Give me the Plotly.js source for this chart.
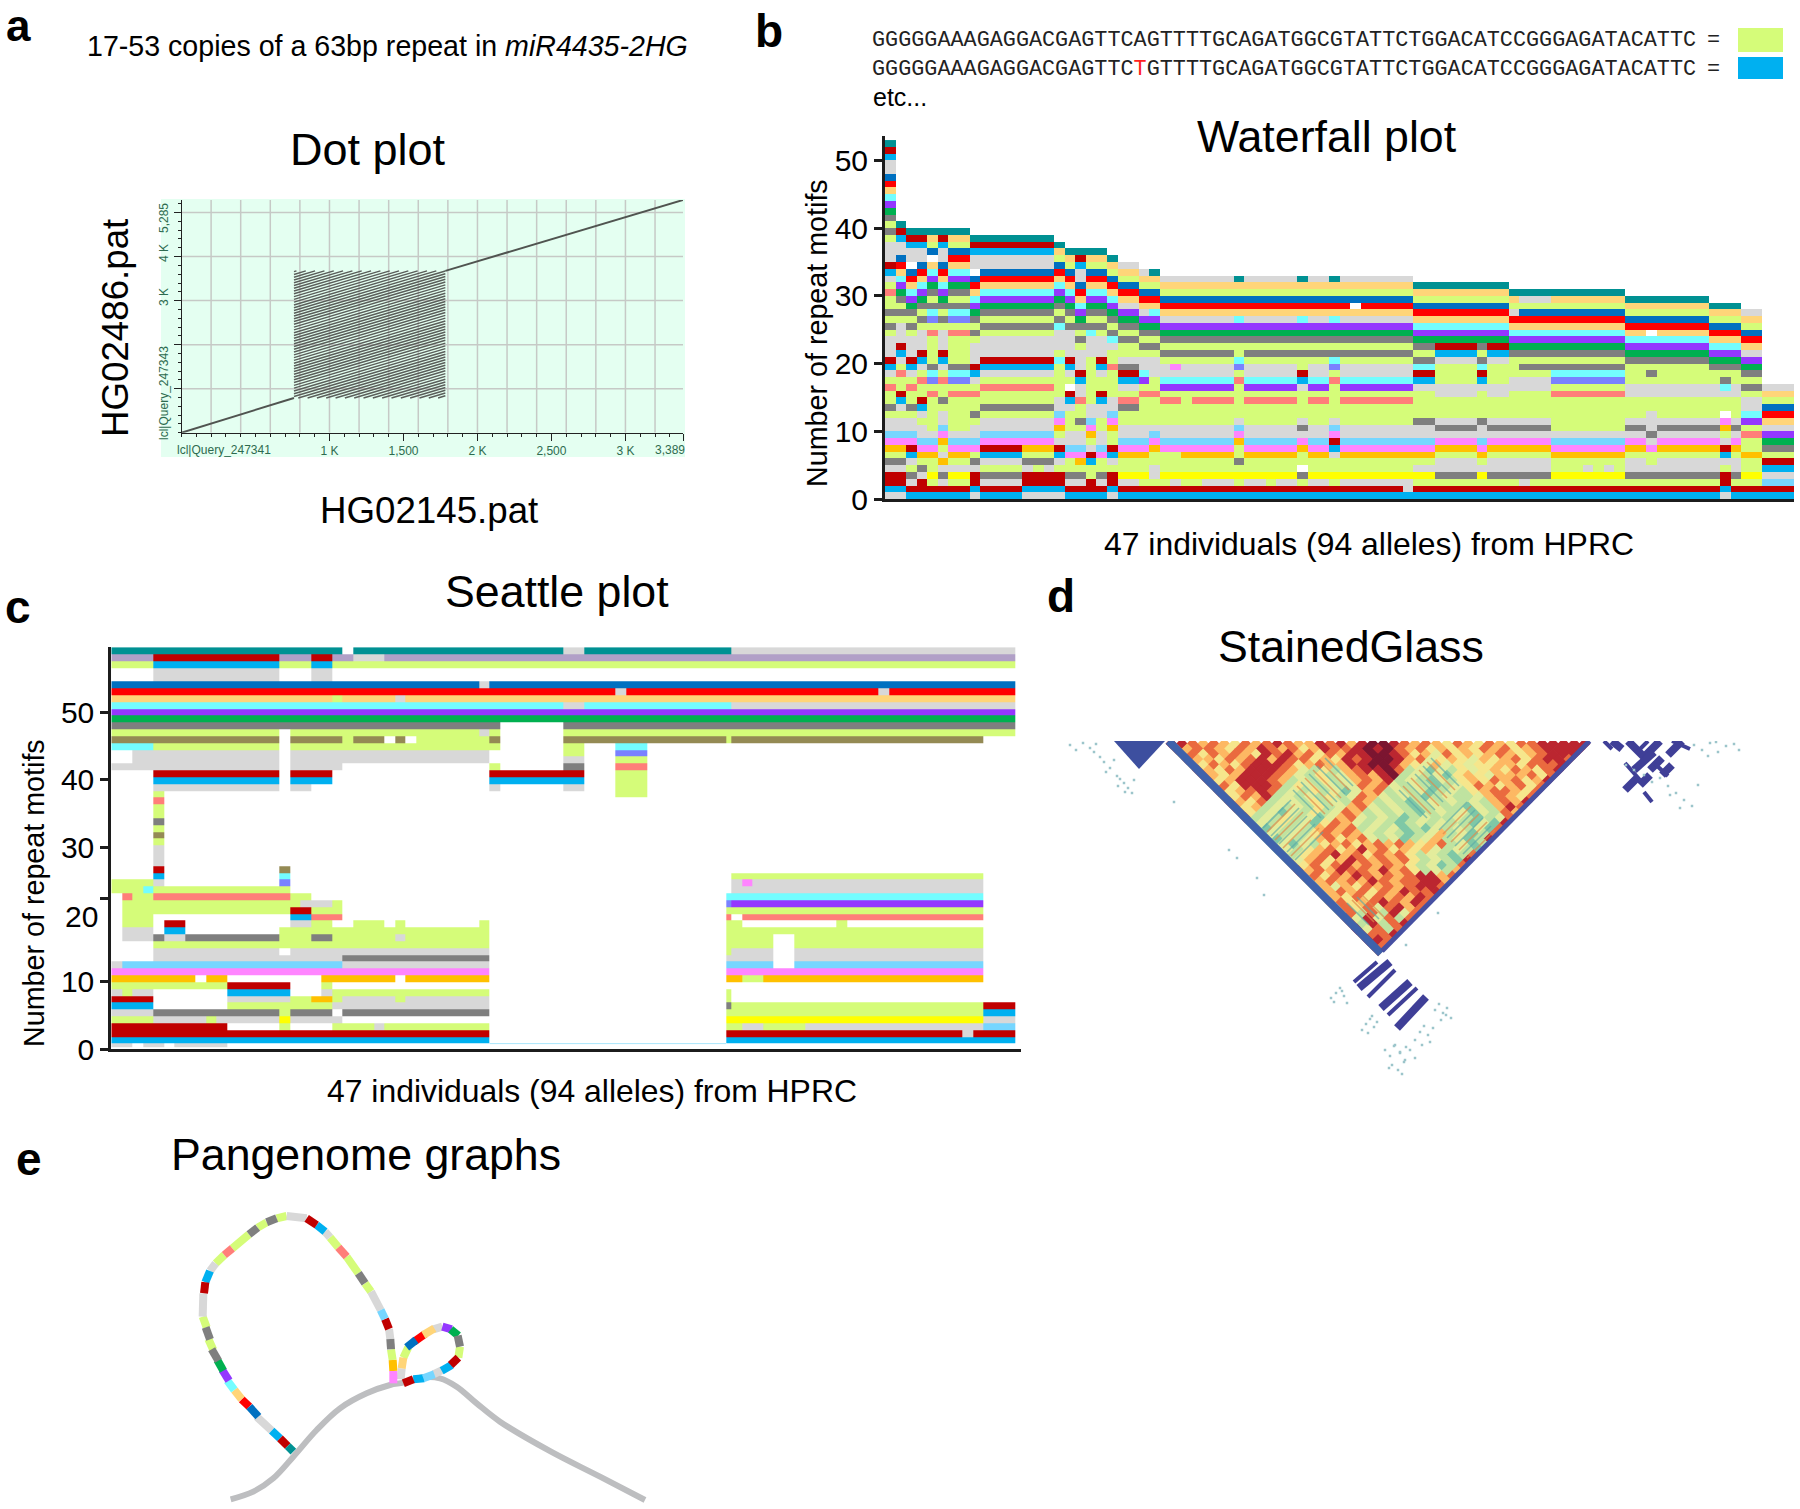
<!DOCTYPE html>
<html><head><meta charset="utf-8">
<script src="https://cdn.plot.ly/plotly-3.0.1.min.js"></script>
<style>html,body{margin:0;padding:0;background:#fff}#chart{width:1800px;height:1509px}</style>
</head><body><div id="chart"></div>
<script>
const FIG_W = 1800, FIG_H = 1509;
// ---- shared motif palette
const motifCodes  = ['L','G','B','R','r','T','O','o','Y','N','C','P','E','K','S','M','A','V','F','U'];
const motifColors = ['#D5FC79','#D8D8D8','#00B0F0','#C00000','#FF0000','#009193','#FFC000','#FFD579','#FFFF00','#0070C0','#73FDFF','#9437FF','#00B050','#7F7F7F','#FF7E79','#FF85FF','#76D6FF','#7A81FF','#948A54','#B1A0C7'];

// ---- panel a: dot plot
const dotTickVals = [1000,1500,2000,2500,3000,3389];
const dotTickText = ['1 K','1,500','2 K','2,500','3 K',''];
const dotGridX = [200,400,600,800,1000,1200,1400,1600,1800,2000,2200,2400,2600,2800,3000,3200];
const dotGridY = [1000,2000,3000,4000,5000];
const dotDiagX = [0,760,null,1783,3389];
const dotDiagY = [0,789,null,3675,5285];
const dotBlockX = [760,1783];
const dotBlockY = [789,3675];
const dotOffsets = [-945,-882,-819,-756,-693,-630,-567,-504,-441,-378,-315,-252,-189,-126,-63,0,63,126,189,252,315,378,441,504,567,630,693,756,819,882,945,1008,1071,1134,1197,1260,1323,1386,1449,1512,1575,1638,1701,1764,1827,1890,1953,2016,2079,2142,2205,2268,2331,2394,2457,2520,2583,2646,2709,2772,2835,2898];

// ---- panel b: waterfall plot, one stack per run of equal columns, read bottom to top
const waterfallWidths = [1,1,1,1,1,1,2,1,4,3,1,1,1,1,1,1,2,1,1,7,1,5,1,2,1,7,2,4,1,2,1,3,7,2,1,5,1,1,1,2,3];
const waterfallStacks = [
 'GBRRGKLOMA GGLKLLSLGB RGGGLKLKLL SLGBRGGGLK LKEPCorNGG BRT',
 'GBRRGKLOMA GGLGBRLLSL GBRGGGLKLK EPCorNGGBR T',
 'BRGKLGBRMA GGLKLLSLGB RGGGLKLKEP CorNWGGBRT',
 'BRRGKLOMAG GLGBRLLSLG BRGGGLKLKE PCorNGGBRT',
 'BRLYLLOMAG LLLLLSLVCK LLLLSLVCKL KEPCoWNLoT',
 'BRGKGOGLOM AGGLKLLSLG BRGGGLKLKE PCorNGGBRT',
 'BRLYGLOMAG LLLLLSLVCK LLLLSLVCKL KEPCorNLoT',
 'GBRRGKLMAG GLKLLSLGBR GGGLKLKEPC orNWGGBRT',
 'BRGKLGBRMA GGLKLLSLGB RGGGLKLKEP CorNGGBRT',
 'GBRRGKLOMA GGLKLLSLGB RGGGLKLKEP CorNGGBRT',
 'GBRRLGBRGL OMAGGLLLLL CLGGGCKLKE PCorNLoT',
 'BRGKLLMAGG LLLGBRWLGB RGGGGKLKEP CorNLoT',
 'BRGKLOMAGG LKLLSGGBRG GGLKLKEPCo rNGGBRT',
 'BRRLLBRGLO MAGGLLLLLL LGGGCKLKEP CorNLoT',
 'BRGKLLMAGG LLGGBRLLGB RGGGLKLKEP CorNLoT',
 'GBRRLGBRLL OMAGGLLLLS LLGCKLKEPC orNLoT',
 'BRGYLLOMAG GLLKSLGBRK GLLKLKEPGo rNLoG',
 'BRLYLLOMAG GLLLLSLPCG GLKLKEPGor NLoG',
 'BRLGGLLOMA GLLLLSLLGG GLKLKEPCor NLoT',
 'BRGYLLOMAG GLLLSLPCGG LKLKEPGorN LoG',
 'BRLYLKLLOM AGLLLLLSLV CLLKEPCorN LoT',
 'BRGYLLOMAG GLLLSLPCGG LKLKEPGorN LoG',
 'BRLKWLLOMG KGLLLLGBRL LKLKEPCorN LoT',
 'BRGYLLOMAG GLLLSLPCGG LKLKEPGorN LoG',
 'BRLYLLGBRM AGLLLLLSLV CKLKEPCorN LoT',
 'BRGYLLOMAG GLLLSLPCGG LKLKEPGorN LoG',
 'BRLYGLOMAG GKLLLLGBRC KLKEPCorNL oT',
 'BRLKGGLOMG KGLLLGGLLL GBREPCorNL oT',
 'BRLYGLOMAG GKLLLLGBRC KLKEPCorNL oT',
 'BRLKGGLOMG KGLLLGGLLL GBREPCorNL oT',
 'BRLKGGLOMG KGLLLLGGLL LKEPCorGLo T',
 'BRLKGGLOMG KGLLLLGGLK LKEPCorNLG T',
 'BRLYLLOMAG LLLLLSLVCK LKEPCorNLo T',
 'BRLKGGLOMG KGLLLGGLLL KEPCorNLoT',
 'BRLKGLLMGK GGGLLGGLKL KEPCWrNLoT',
 'BRLKGGLOMG KGLLLGGLLL KEPCorNLoT',
 'BRLKGGLOMG KGLLLGGLLK EPCorNLoT',
 'GBRRLGBRGL OMWLLGCKLK EPCorNLoT',
 'BRLKGGLOMG KGLLLGGLLK EPCorNLoT',
 'BRLYLLOLLS LPCGGLKLKE PGorNLoG',
 'BRAGBRLKEP GorNLoG'
];
const waterfallEditCols = [26,27,27,28,44,49,26,28,29,36,60,66,68,14];
const waterfallEditRows = [6,6,19,14,28,1,2,2,2,2,2,4,4,4];
const waterfallEditCode = ['L','L','M','L','W','G','L','L','L','L','G','G','G','L'];
const axisTicks = [0,10,20,30,40,50];

// ---- panel c: Seattle plot, one run list per row, read top to bottom
const seattleRows = [
 'T22 W1 T20 G2 T14 G27',
 'U4 R12 U3 R2 U2 G3 U60',
 'L4 B12 L3 B2 L65',
 'W4 G12 W3 G2',
 'W4 G12 W3 G2',
 'N35 G1 N50',
 'r48 G1 r24 G1 r12',
 'o21 L1 o5 G1 o58',
 'C43 G2 C14 G27',
 'P86',
 'E86',
 'K37 W6 K43',
 'L16 W1 L18 G1 L1 W6 L43',
 'F16 W1 F5 L1 F3 W1 F1 W1 L7 F1 W6 F15 L1 F24',
 'C4 L12 W1 L20 W6 L2 W3 C3',
 'W2 G14 W1 G19 W7 L2 W3 V3',
 'W2 G14 W1 G19 W7 G2 W3 L3',
 'G16 W1 G5 W14 L1 W6 K2 W3 S3',
 'W4 R12 W1 R4 W15 R9 W3 L3',
 'W4 B12 W1 B4 W15 B9 W3 L3',
 'W4 G12 W1 G2 W17 G1 W6 G2 W3 L3',
 'W4 L1 W43 L3',
 'W4 S1',
 'W4 L1',
 'W4 L1',
 'W4 K1',
 'W4 L1',
 'W4 F1',
 'W4 L1',
 'W4 G1',
 'W4 G1',
 'W4 G1',
 'W4 R1 W11 F1',
 'W4 B1 W11 C1 W42 L24',
 'L4 G1 W11 V1 W42 G1 M1 G22',
 'L3 C1 L13 W42 G24',
 'W1 S1 L2 S13 L2 W39 C25',
 'W1 L17 G3 L1 W36 V1 P24',
 'W1 L16 R2 L3 W36 L25',
 'W1 L3 W13 B2 S3 W36 S1 W1 S23',
 'W1 L3 W1 R2 W10 G2 L2 W2 L3 W1 L1 W7 L1 W22 L2 W9 L1 W13',
 'W1 G3 W1 B2 W9 L20 W22 L25',
 'W1 G3 K1 G2 K9 L3 K2 L6 G1 L8 W22 L5 W2 L18',
 'W4 L32 W22 L5 W2 L18',
 'W4 G12 W1 G19 W22 L1 G4 W2 G18',
 'W4 G18 K14 W22 G5 W2 G18',
 'G1 A21 G14 W22 A5 W2 A18',
 'M36 W22 M25',
 'O8 W1 O2 W9 O7 W1 O8 W22 O2 L2 O21',
 'L11 R6 W3 L1',
 'G1 L1 G2 W7 B6 W3 G1 L15 W22 L1',
 'R4 W7 G6 L2 O2 L1 G5 L1 G8 W22 L1',
 'B4 W7 L10 G15 W22 K1 L24 R3',
 'G4 K12 L1 K4 W1 K14 W22 L25 B3',
 'L4 G5 L1 G6 Y1 G5 W36 Y25 G3',
 'R11 W5 L1 W4 L4 G1 L10 W22 L2 G2 L4 G17 A3',
 'R36 W22 R23 G1 R4',
 'B36 W22 B28',
 'G2 W1 G2 W1 G5'
];
const seattleTickVals = [0,10,22.3,30,40,50];
const seattleTickText = ['0','10','','30','40','50'];
const seattleThinX = [36,58.5];
const seattleThinY = [0.8,0.8];

// ---- panel d: StainedGlass, percent identity class per tile, one string per depth
const glassPalette = ['#3d4fa0','#3f8fc0','#7fc8a6','#bfe3a0','#e3ec9c','#f6e68c','#fdb863','#ea6a3f','#bb2630','#7b1530'];
const glassRows = [
 '8876765767876687868998767657657657788888','767765768767568778989767565657675678888',
 '67576765878675768899875647565676567888','7665767868775658789986745654656757887',
 '657657888756766889986546454556657778','76576888764353678897342435456576578',
 '7656888764353467689343425654666757','756888763435346768343243565767568',
 '67588873543434767434323457656757','7567873435342467343423435677657',
 '657683434353476434323433467657','76573443534376343234343436768',
 '7563434353467434323433243687','653424353476343432343424376',
 '73435342467434323433432347','3435342576434323434332428',
 '324343676734342324343427','34343576764343234634237',
 '3243467567434234634238','342435675676765673423',
 '34356756867565643432','4356786757675343237',
 '546756876767534328','65757867676534237',
 '7676877686753436','675768767678867',
 '56767687677886','3646576767887',
 '567675768778','46575767687',
 '6756787687','475747867',
 '67373847','7484737','738378','84737','7778','887','87','7'
];
const glassLeftX = [1168.5,1381];   const glassLeftY = [741,953.5];
const glassRightX = [1589.5,1382];  const glassRightY = [741,951];
const glassTriX = [1114,1165,1139]; const glassTriY = [741,741,769];
const glassStripeTealX = [1293,1321,null,1301,1329,null,1309,1337,null,1317,1345,null,1325,1353,null,1399,1427,null,1407,1435,null,1415,1443,null,1423,1451,null,1431,1459,null,1455,1483,null,1447,1475,null,1439,1467,null,1463,1491,null,1471,1499,null,1279,1307,null,1271,1299,null,1263,1291,null,1287,1315,null,1295,1323,null,1357,1379,null,1347,1369];
const glassStripeTealY = [790,818,null,782,810,null,774,802,null,766,794,null,758,786,null,790,818,null,782,810,null,774,802,null,766,794,null,758,786,null,846,818,null,838,810,null,830,802,null,854,826,null,862,834,null,844,816,null,836,808,null,828,800,null,852,824,null,860,832,null,897,919,null,903,925];
const glassStripeRedX = [1297,1325,null,1305,1333,null,1313,1341,null,1321,1349,null,1403,1431,null,1411,1439,null,1419,1447,null,1427,1455,null,1443,1471,null,1451,1479,null,1459,1487,null,1467,1495,null,1267,1295,null,1275,1303,null,1283,1311,null,1291,1319,null,1362,1384,null,1352,1374];
const glassStripeRedY = [786,814,null,778,806,null,770,798,null,762,790,null,786,814,null,778,806,null,770,798,null,762,790,null,834,806,null,842,814,null,850,822,null,858,830,null,832,804,null,840,812,null,848,820,null,856,828,null,895,917,null,900,922];
const glassThickX = [1359,1390,null,1381,1410,null,1397,1426,null,1628,1644,null,1660,1645,null,1682,1668,null,1634,1654,null,1640,1650,null,1650,1662,null,1612,1622,null,1625,1637,null,1662,1672];
const glassThickY = [988,962,null,1008,982,null,1028,997,null,741,757,null,741,756,null,741,755,null,770,752,null,785,775,null,770,758,null,741,749,null,790,778,null,775,765];
const glassThinX = [1354,1377,null,1368,1395,null,1388,1417,null,1604,1612,null,1648,1636,null,1672,1690,null,1655,1668,null,1625,1640,null,1644,1652];
const glassThinY = [982,962,null,997,970,null,1015,988,null,741,749,null,741,753,null,741,749,null,764,776,null,763,780,null,792,802];
const glassPaleX = [1070,1076,1083,1090,1094,1096,1100,1104,1110,1114,1106,1117,1120,1124,1128,1132,1118,1125,1134,1174,1229,1237,1257,1264,1438,1406,1694,1702,1710,1718,1726,1734,1739,1708,1716,1626,1634,1644,1652,1660,1668,1676,1684,1692,1698,1670,1680,1331,1336,1340,1344,1347,1334,1342,1362,1366,1370,1374,1377,1368,1372,1435,1439,1443,1447,1451,1441,1446,1415,1420,1424,1428,1433,1422,1430,1385,1390,1395,1400,1405,1410,1415,1392,1398,1404,1394,1402,1400,1406,1389];
const glassPaleY = [745,750,743,748,752,744,757,762,768,760,772,776,779,783,788,793,786,792,780,802,850,858,878,895,913,945,745,750,743,752,746,744,750,756,742,765,770,775,782,778,786,793,800,806,785,795,808,998,993,988,996,1003,1002,991,1030,1024,1019,1027,1022,1033,1016,1010,1004,1013,1008,1018,1020,1015,1040,1032,1026,1035,1028,1045,1042,1050,1056,1045,1053,1060,1050,1058,1065,1070,1062,1046,1074,1052,1047,1068];

// ---- panel e: pangenome graph, node colours and outlines
const graphBackX = [122,190,250,310,380,450,530,600,640,700,750,800,860,930,1083,1230,1365];
const graphBackY = [928,905,865,800,720,655,610,585,578,562,565,590,640,695,785,860,930];
const graphNodes = ['T','R','B','G','N','r','o','C','P','E','K','L','K','L','G','R','B','G','L','S','L','K','L','K','L','G','R','B','G','L','S','L','K','L','G','A','R','G','K','L','O','M','G','o','L','N','r','o','G','P','E','K','L','R','B','G','A','B','R'];
const graphStartX = [310,293,270,245,205,178,155,133,117,100,85,70,60,50,38,42,46,60,77,103,127,177,203,230,260,290,350,380,405,420,445,470,505,525,543,572,585,597,601,603,608,610,632,635,640,650,672,700,730,757,782,803,810,805,785,757,733,703,670];
const graphStartY = [785,768,745,722,680,650,628,600,572,542,512,480,448,412,380,310,277,243,220,195,175,133,113,97,85,78,85,105,125,142,172,200,250,280,305,360,387,417,447,478,510,543,568,535,503,472,455,435,418,410,418,437,470,503,525,540,553,565,568];
const graphEndX   = [293,270,245,200,178,155,133,112,97,82,65,55,47,38,40,46,60,77,103,127,177,203,230,260,290,350,380,405,420,445,470,505,525,543,572,585,597,601,603,608,610,610,635,640,655,678,705,733,757,785,805,810,805,782,755,730,700,670,640];
const graphEndY   = [768,745,722,680,650,628,600,572,540,510,478,447,412,380,310,277,243,220,195,175,133,113,97,85,78,85,105,125,142,172,200,250,280,305,360,387,417,447,478,510,543,580,535,503,472,450,432,415,410,418,437,470,503,525,542,553,565,568,580];

// ---- page text, [text, x, y, size, angle] in figure pixels
const labels = [
 ['<b>a</b>',18,26,44,0],['<b>b</b>',769,31,46,0],['<b>c</b>',18,607,46,0],['<b>d</b>',1061,596,46,0],['<b>e</b>',29,1159,46,0],
 ['17-53 copies of a 63bp repeat in <i>miR4435-2HG</i>',387,46,28.6,0],
 ['Dot plot',368,149,45,0],['HG02486.pat',115,328,36.7,-90],['HG02145.pat',429,510,36.7,0],
 ['Waterfall plot',1327,136,44.7,0],['Number of repeat motifs',817,333,28.7,-90],['47 individuals (94 alleles) from HPRC',1369,544,31.9,0],
 ['Seattle plot',557,591,44.7,0],['Number of repeat motifs',34,893,28.7,-90],['47 individuals (94 alleles) from HPRC',592,1091,31.9,0],['20',81,916,30,0],
 ['StainedGlass',1351,646,44.7,0],['Pangenome graphs',366,1154,44.7,0],
 ['etc...',900,97,25,0]
];
const seqA = 'GGGGGAAAGAGGACGAGTTCAGTTTTGCAGATGGCGTATTCTGGACATCCGGGAGATACATTC';
const seqB = 'GGGGGAAAGAGGACGAGTTC<span style="color:#ff2020">T</span>GTTTTGCAGATGGCGTATTCTGGACATCCGGGAGATACATTC';

// ---- helpers
const strip = s => s.replace(/ /g,'');
const codeIndex = c => { const i = motifCodes.indexOf(c); return i < 0 ? null : i; };
const n = motifColors.length;
const motifScale = [];
motifColors.forEach((c,i)=>{ motifScale.push([i/n,c]); motifScale.push([(i+1)/n,c]); });
const hmap = (z,x,y,xa,ya)=>({type:'heatmap',z,x,y,xaxis:xa,yaxis:ya,zmin:-0.5,zmax:n-0.5,colorscale:motifScale,showscale:false,hoverinfo:'skip',zsmooth:false,xgap:0,ygap:0});
const domX = (a,b)=>[a/FIG_W,b/FIG_W];
const domY = (top,bot)=>[1-bot/FIG_H,1-top/FIG_H];

// waterfall matrix
const wfCols = 86, wfRows = 53;
const wfZ = Array.from({length:wfRows},()=>Array(wfCols).fill(null));
let col = 0;
waterfallStacks.forEach((stack,g)=>{
  const s = strip(stack);
  for(let k=0;k<waterfallWidths[g];k++,col++){
    for(let r=0;r<s.length && r<wfRows;r++) wfZ[r][col]=codeIndex(s[r]);
  }
});
waterfallEditCols.forEach((c,i)=>{ wfZ[waterfallEditRows[i]][c]=codeIndex(waterfallEditCode[i]); });
const wfX = Array.from({length:wfCols},(_,i)=>i+0.5);
const wfY = Array.from({length:wfRows},(_,i)=>i+0.5);

// seattle matrix (last row is the half-height sliver under the baseline)
const stRows = seattleRows.length;
const stCols = 86;
const stZ = [];
for(let r=stRows-1;r>=0;r--){
  const row = Array(stCols).fill(null);
  let c=0;
  for(const m of seattleRows[r].matchAll(/([A-Za-z])(\d+)/g)){
    const v=codeIndex(m[1]);
    for(let k=0;k<+m[2]&&c<stCols;k++,c++) row[c]=v;
  }
  stZ.push(row);
}
const stXEdges = Array.from({length:stCols+1},(_,i)=>i);
stXEdges[58] = 58.5;   // the right-hand block begins half a column in
const stYEdges = [0.28,0.8];
for(let r=1;r<stRows;r++) stYEdges.push(0.8+r*(58.9/(stRows-1)));

// dot-plot repeat diagonals clipped to the repeat block
const dotX=[],dotY=[];
dotOffsets.forEach(c=>{
  const x0=Math.max(dotBlockX[0],dotBlockY[0]-c), x1=Math.min(dotBlockX[1],dotBlockY[1]-c);
  if(x1>x0){ dotX.push(x0,x1,null); dotY.push(x0+c,x1+c,null); }
});
const gridX=[],gridY=[];
dotGridX.forEach(v=>{gridX.push(v,v,null);gridY.push(0,5285,null);});
dotGridY.forEach(v=>{gridX.push(0,3389,null);gridY.push(v,v,null);});

// stained-glass tiles
const glassW = 10.6, glassLeft = 1166, glassTop = 741;
const tx=[],ty=[],tc=[];
glassRows.forEach((s,r)=>{
  for(let c=0;c<s.length;c++){
    tx.push(glassLeft+(r+2*c+1)*glassW/2);
    ty.push(glassTop+(r+0.5)*glassW/2);
    tc.push(glassPalette[+s[c]]);
  }
});

// traces
const line=(x,y,color,width,xa,ya,extra)=>Object.assign({type:'scatter',mode:'lines',x,y,xaxis:xa,yaxis:ya,hoverinfo:'skip',line:{color,width}},extra||{});
const traces = [
  line(gridX,gridY,'#c6c9c6',1.5,'x','y'),
  line(dotX,dotY,'#5a5e5a',1.5,'x','y'),
  line(dotDiagX,dotDiagY,'#505450',2,'x','y'),
  hmap(wfZ,wfX,wfY,'x2','y2'),
  hmap(stZ,stXEdges,stYEdges,'x3','y3'),
  line(seattleThinX,seattleThinY,'#a9e6fb',1,'x3','y3'),
  {type:'scatter',mode:'markers',x:tx,y:ty,xaxis:'x4',yaxis:'y4',hoverinfo:'skip',marker:{symbol:'diamond',size:8.9,color:tc,line:{width:0}}},
  line(glassStripeTealX,glassStripeTealY,'#5aa9a8',1.6,'x4','y4',{opacity:0.65}),
  line(glassStripeRedX,glassStripeRedY,'#e08a4a',1.6,'x4','y4',{opacity:0.7}),
  line(glassLeftX,glassLeftY,'#3f62ab',8,'x4','y4'),
  line(glassRightX,glassRightY,'#4650a2',5,'x4','y4'),
  {type:'scatter',mode:'lines',x:glassTriX,y:glassTriY,xaxis:'x4',yaxis:'y4',fill:'toself',fillcolor:'#3d4f9f',line:{width:0,color:'#3d4f9f'},hoverinfo:'skip'},
  line(glassThickX,glassThickY,'#3f3f97',8,'x4','y4'),
  line(glassThinX,glassThinY,'#3f3f97',4,'x4','y4'),
  {type:'scatter',mode:'markers',x:glassPaleX,y:glassPaleY,xaxis:'x4',yaxis:'y4',hoverinfo:'skip',marker:{symbol:'square',size:2.5,color:'#9cc5cb'}},
  line(graphBackX,graphBackY,'#BDBEC0',6,'x5','y5',{line:{color:'#BDBEC0',width:6,shape:'spline',smoothing:1}})
];
// graph nodes: one trace per colour, segments separated by gaps
motifCodes.forEach((code,ci)=>{
  const xs=[],ys=[];
  graphNodes.forEach((g,i)=>{ if(g===code){ xs.push(graphStartX[i],graphEndX[i],null); ys.push(graphStartY[i],graphEndY[i],null);} });
  if(xs.length) traces.push(line(xs,ys,motifColors[ci],8,'x5','y5'));
});

const hidden = {visible:false,fixedrange:true};
const tickFont = {family:'Liberation Sans, Arial, sans-serif',size:30,color:'#000'};
const textColor = '#2e6b4f';
const layout = {
  width:FIG_W,height:FIG_H,margin:{l:0,r:0,t:0,b:0,pad:0},paper_bgcolor:'#fff',plot_bgcolor:'rgba(0,0,0,0)',
  showlegend:false,font:{family:'Liberation Sans, Arial, sans-serif',color:'#000'},
  xaxis:{domain:domX(181.5,683),range:[0,3389],showgrid:false,zeroline:false,showline:true,linecolor:'#222',linewidth:1,
    tickmode:'array',tickvals:dotTickVals,ticktext:dotTickText,ticks:'outside',ticklen:7,tickcolor:'#222',tickwidth:1,
    tickfont:{size:12,color:textColor},anchor:'y',
    minor:{tickmode:'linear',tick0:0,dtick:100,ticks:'outside',ticklen:3,tickcolor:'#222',tickwidth:1,showgrid:false}},
  yaxis:{domain:domY(200,432.7),range:[0,5285],showgrid:false,zeroline:false,showline:true,linecolor:'#222',linewidth:1,
    tickmode:'array',tickvals:[1000,2000,3000,4000,5000],ticktext:['','','','',''],ticks:'outside',ticklen:7,tickcolor:'#222',tickwidth:1,anchor:'x',
    minor:{tickmode:'linear',tick0:0,dtick:200,ticks:'outside',ticklen:3,tickcolor:'#222',tickwidth:1,showgrid:false}},
  xaxis2:{domain:domX(885,1794),range:[0,86],showgrid:false,zeroline:false,showline:true,linecolor:'#1c1c1c',linewidth:3,ticks:'',showticklabels:false,anchor:'y2'},
  yaxis2:{domain:domY(136,499),range:[0,53.6],showgrid:false,zeroline:false,showline:true,linecolor:'#1c1c1c',linewidth:3,
    tickmode:'array',tickvals:axisTicks,ticks:'outside',ticklen:8,tickwidth:3,tickcolor:'#1c1c1c',tickfont:tickFont,anchor:'x2'},
  xaxis3:{domain:domX(111.3,1021),range:[0,86.57],showgrid:false,zeroline:false,showline:true,linecolor:'#1c1c1c',linewidth:3,ticks:'',showticklabels:false,anchor:'y3'},
  yaxis3:{domain:domY(647.2,1049),range:[0,59.7],showgrid:false,zeroline:false,showline:true,linecolor:'#1c1c1c',linewidth:3,
    tickmode:'array',tickvals:seattleTickVals,ticktext:seattleTickText,ticks:'outside',ticklen:8,tickwidth:3,tickcolor:'#1c1c1c',tickfont:tickFont,anchor:'x3'},
  xaxis4:Object.assign({domain:domX(1040,1760),range:[1040,1760],anchor:'y4'},hidden),
  yaxis4:Object.assign({domain:domY(741,1085),range:[1085,741],anchor:'x4'},hidden),
  xaxis5:Object.assign({domain:domX(190,190+1400/3),range:[0,1400],anchor:'y5'},hidden),
  yaxis5:Object.assign({domain:domY(1190,1509),range:[957,0],anchor:'x5'},hidden),
  shapes:[
    {type:'rect',xref:'paper',yref:'paper',layer:'below',x0:161/FIG_W,x1:685/FIG_W,y0:1-457/FIG_H,y1:1-199/FIG_H,fillcolor:'#E4FFF1',line:{width:0}},
    {type:'rect',xref:'paper',yref:'paper',layer:'below',x0:1738/FIG_W,x1:1783/FIG_W,y0:1-52/FIG_H,y1:1-28/FIG_H,fillcolor:motifColors[0],line:{width:0}},
    {type:'rect',xref:'paper',yref:'paper',layer:'below',x0:1738/FIG_W,x1:1783/FIG_W,y0:1-79/FIG_H,y1:1-57/FIG_H,fillcolor:motifColors[2],line:{width:0}}
  ],
  annotations:[]
};
const addText=(text,x,y,size,angle,opts)=>layout.annotations.push(Object.assign({text,xref:'paper',yref:'paper',x:x/FIG_W,y:1-y/FIG_H,xanchor:'center',yanchor:'middle',showarrow:false,textangle:angle||0,font:{size,color:'#000',family:'Liberation Sans, Arial, sans-serif'}},opts||{}));
labels.forEach(l=>addText(l[0],l[1],l[2],l[3],l[4]));
const mono={family:'Liberation Mono, Courier New, monospace',size:21.8,color:'#222'};
addText(seqA,870,40,21.8,0,{xanchor:'left',font:mono});
addText(seqB,870,69,21.8,0,{xanchor:'left',font:mono});
addText('=',1713,40,21.8,0,{font:mono});
addText('=',1713,69,21.8,0,{font:mono});
// dot-plot inner labels
const dotFont={size:12,color:textColor,family:'Liberation Sans, Arial, sans-serif'};
addText('lcl|Query_247341',224,450,12,0,{font:dotFont});
addText('3,389',670,450,12,0,{font:dotFont});
addText('5,285',164,218,12,-90,{font:dotFont});
addText('4 K',164,253,12,-90,{font:dotFont});
addText('3 K',164,297,12,-90,{font:dotFont});
addText('lcl|Query_247343',164,393,12,-90,{font:dotFont});

Plotly.newPlot('chart',traces,layout,{displayModeBar:false,staticPlot:true});
</script></body></html>
